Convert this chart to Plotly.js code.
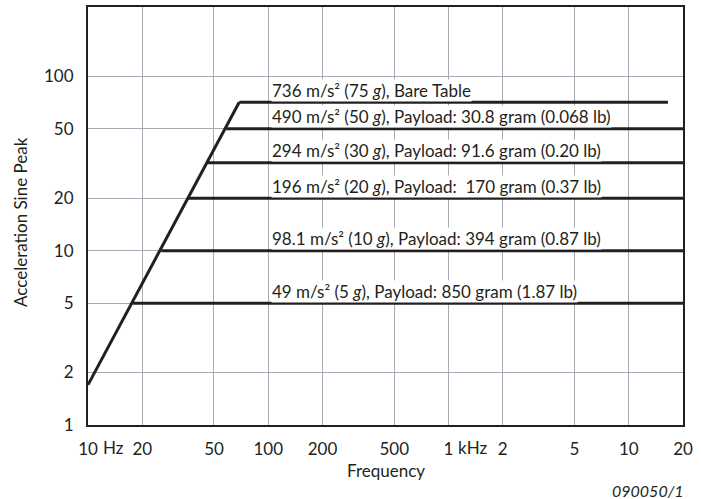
<!DOCTYPE html>
<html>
<head>
<meta charset="utf-8">
<script src="https://cdn.plot.ly/plotly-3.0.1.min.js"></script>
<style>html,body{margin:0;padding:0;background:#fff;}#chart{width:701px;height:499px;}</style>
</head>
<body>
<div id="chart"></div>
<script>
// Data
const diagFreq = [10, 69];            // Hz, constant-displacement slope
const diagAccel = [1.7, 71];          // g
const levels = [71, 50, 32, 20, 10, 5];                     // g
const startFreq = [69, 58.5, 45.5, 36, 25.5, 17.7];         // Hz
const endFreq = [16500, 20000, 20000, 20000, 20000, 20000]; // Hz
const labels = [
  "736 m/s² (75 <i>g</i>), Bare Table",
  "490 m/s² (50 <i>g</i>), Payload: 30.8 gram (0.068 lb)",
  "294 m/s² (30 <i>g</i>), Payload: 91.6 gram (0.20 lb)",
  "196 m/s² (20 <i>g</i>), Payload: \u00a0170 gram (0.37 lb)",
  "98.1 m/s² (10 <i>g</i>), Payload: 394 gram (0.87 lb)",
  "49 m/s² (5 <i>g</i>), Payload: 850 gram (1.87 lb)"
];
const xTickVals = [10, 20, 50, 100, 200, 500, 1000, 2000, 5000, 10000, 20000];
const xTickText = ["10", "20", "50", "100", "200", "500", "1", "2", "5", "10", "20"];
const yTickVals = [1, 2, 5, 10, 20, 50, 100];
const yTickText = ["1", "2", "5", "10", "20", "50", "100"];

const FONT = "Lato, 'Open Sans', sans-serif";
const INK = "#231f20";
const lineStyle = {color: INK, width: 3};

const traces = [{
  x: diagFreq, y: diagAccel, mode: "lines", line: lineStyle,
  showlegend: false, hoverinfo: "skip"
}];
levels.forEach((lv, i) => {
  traces.push({
    x: [startFreq[i], endFreq[i]], y: [lv, lv], mode: "lines", line: lineStyle,
    showlegend: false, hoverinfo: "skip"
  });
});

const annotations = levels.map((lv, i) => ({
  text: labels[i], xref: "paper", yref: "y",
  x: 0.3076, y: Math.log10(lv), xanchor: "left", yanchor: "middle",
  yshift: 12, showarrow: false, bgcolor: "#ffffff", borderpad: 0,
  font: {family: FONT, size: 17, color: INK}
}));
annotations.push(
  {text: "Hz", xref: "x", yref: "paper", x: Math.log10(xTickVals[0]), y: 0,
   xanchor: "left", yanchor: "middle", xshift: 13, yshift: -22, showarrow: false,
   font: {family: FONT, size: 17, color: INK}},
  {text: "kHz", xref: "x", yref: "paper", x: Math.log10(xTickVals[6]), y: 0,
   xanchor: "left", yanchor: "middle", xshift: 8, yshift: -22, showarrow: false,
   font: {family: FONT, size: 17, color: INK}},
  {text: "Acceleration Sine Peak", xref: "paper", yref: "paper",
   x: -0.113, y: 0.485, xanchor: "center", yanchor: "middle", textangle: -90,
   showarrow: false, font: {family: FONT, size: 17, color: INK}},
  {text: "Frequency", xref: "paper", yref: "paper", x: 0.5, y: 0,
   xanchor: "center", yanchor: "middle", yshift: -45, showarrow: false,
   font: {family: FONT, size: 17, color: INK}},
  {text: "<i>090050/1</i>", xref: "paper", yref: "paper", x: 1.005, y: 0,
   xanchor: "right", yanchor: "middle", yshift: -65, showarrow: false,
   font: {family: FONT, size: 16, color: INK}}
);

const layout = {
  width: 701, height: 499,
  margin: {l: 88, r: 18, t: 7, b: 74},
  paper_bgcolor: "#fff", plot_bgcolor: "#fff",
  showlegend: false,
  xaxis: {
    type: "log", range: [1, Math.log10(20000)],
    tickvals: xTickVals, ticktext: xTickText,
    showgrid: true, gridcolor: "#a5acb3", gridwidth: 1,
    showline: true, mirror: true, linecolor: INK, linewidth: 2,
    ticks: "outside", ticklen: 8, tickcolor: "rgba(0,0,0,0)",
    tickfont: {family: FONT, size: 17, color: INK},
    zeroline: false, fixedrange: true
  },
  yaxis: {
    type: "log", range: [0, Math.log10(250)],
    tickvals: yTickVals, ticktext: yTickText,
    showgrid: true, gridcolor: "#a5acb3", gridwidth: 1,
    showline: true, mirror: true, linecolor: INK, linewidth: 2,
    ticks: "outside", ticklen: 9, tickcolor: "rgba(0,0,0,0)",
    tickfont: {family: FONT, size: 17, color: INK},
    zeroline: false, fixedrange: true
  },
  annotations: annotations
};

Plotly.newPlot("chart", traces, layout, {staticPlot: true, displayModeBar: false});
</script>
</body>
</html>
